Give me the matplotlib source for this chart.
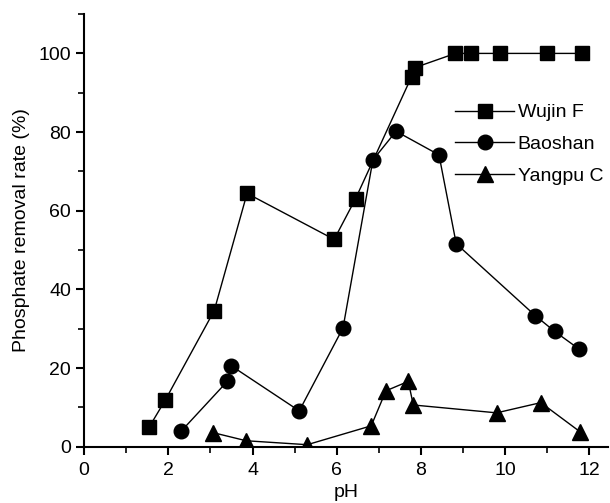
import matplotlib
matplotlib.use("Agg")
import matplotlib.pyplot as plt
from matplotlib.ticker import MultipleLocator

plt.rcParams['font.family'] = ['Liberation Sans', 'DejaVu Sans']

# --- data ---
wujin_ph = [1.54, 1.93, 3.09, 3.87, 5.94, 6.45, 7.78, 7.86, 8.82, 9.18, 9.89, 11.0, 11.82]
wujin_rate = [4.9, 11.9, 34.6, 64.4, 52.7, 63.1, 94.1, 96.4, 100, 100, 100, 100, 100]

baoshan_ph = [2.31, 3.40, 3.49, 5.11, 6.15, 6.86, 7.41, 8.43, 8.84, 10.72, 11.18, 11.76]
baoshan_rate = [4.0, 16.6, 20.6, 9.1, 30.2, 72.9, 80.2, 74.2, 51.6, 33.3, 29.3, 24.8]

yangpu_ph = [3.05, 3.85, 5.3, 6.82, 7.17, 7.70, 7.82, 9.8, 10.85, 11.78]
yangpu_rate = [3.6, 1.5, 0.5, 5.3, 14.2, 16.6, 10.6, 8.6, 11.2, 3.8]

fig = plt.figure(figsize=(6.10, 5.03), dpi=100)
ax = fig.add_axes([0.138, 0.112, 0.859, 0.860])

ax.plot(wujin_ph, wujin_rate, '-s', color='black', lw=1.0, ms=9.5, label='Wujin F')
ax.plot(baoshan_ph, baoshan_rate, '-o', color='black', lw=1.0, ms=10.5, label='Baoshan')
ax.plot(yangpu_ph, yangpu_rate, '-^', color='black', lw=1.0, ms=11, label='Yangpu C')

ax.set_xlim(0, 12.45)
ax.set_ylim(0, 110)
ax.xaxis.set_major_locator(MultipleLocator(2))
ax.xaxis.set_minor_locator(MultipleLocator(1))
ax.yaxis.set_major_locator(MultipleLocator(20))
ax.yaxis.set_minor_locator(MultipleLocator(10))

for side in ['top', 'right']:
    ax.spines[side].set_visible(False)
for side in ['left', 'bottom']:
    ax.spines[side].set_linewidth(1.5)
ax.tick_params(which='major', direction='out', length=6, width=1.5, labelsize=14)
ax.tick_params(axis='x', which='major', pad=5)
ax.tick_params(which='minor', direction='out', length=4, width=1.2)

ax.set_xlabel('pH', fontsize=14, labelpad=4)
ax.set_ylabel('Phosphate removal rate (%)', fontsize=14, labelpad=6)

ax.legend(loc='upper left', bbox_to_anchor=(0.69, 0.815), frameon=False, fontsize=14,
          handlelength=3.0, handletextpad=0.2, labelspacing=0.72, borderpad=0)

fig.savefig('out.png', dpi=100)
